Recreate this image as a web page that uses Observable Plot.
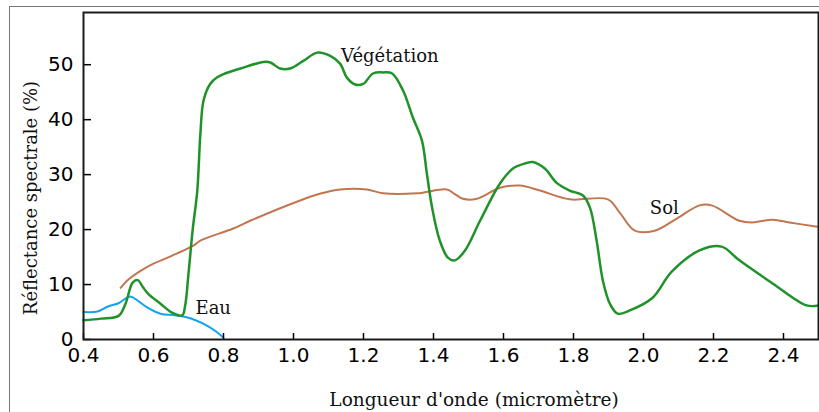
<!DOCTYPE html>
<html>
<head>
<meta charset="utf-8">
<script src="https://cdn.jsdelivr.net/npm/d3@7"></script>
<script src="https://cdn.jsdelivr.net/npm/@observablehq/plot@0.6"></script>
<style>
  html, body { margin: 0; padding: 0; background: #fff; }
  #wrap { position: relative; width: 819px; height: 412px; overflow: hidden; }
  #border { position: absolute; left: 9px; top: 6px; width: 830px; height: 430px; border: 1px solid #777; pointer-events: none; }
</style>
</head>
<body>
<div id="wrap"><div id="border"></div></div>
<script>
// Végétation
const vegWave = [0.40,0.45,0.50,0.52,0.54,0.555,0.57,0.585,0.62,0.65,0.682,0.69,0.70,0.712,0.725,0.734,0.743,0.762,0.782,0.80,0.848,0.914,0.934,0.962,0.99,1.028,1.068,1.105,1.133,1.153,1.176,1.199,1.227,1.256,1.282,1.313,1.341,1.367,1.381,1.396,1.418,1.441,1.461,1.49,1.533,1.59,1.627,1.66,1.684,1.718,1.752,1.789,1.827,1.847,1.866,1.884,1.904,1.926,1.961,2.026,2.08,2.16,2.223,2.274,2.369,2.466,2.50];
const vegRefl = [3.5,3.8,4.3,6.5,10.3,10.8,9.5,8.3,6.5,5.0,4.4,6.0,12,20,27,37.5,43.5,46.5,47.7,48.3,49.3,50.5,50.4,49.3,49.3,50.7,52.2,51.6,50.2,47.6,46.4,46.5,48.4,48.6,48.4,45.3,40.4,36.2,30.2,24,18,14.9,14.4,16.2,21.6,28.4,31.1,32,32.3,31.1,28.5,27.1,26.2,24,18,10.7,6.5,4.7,5.3,7.6,12.3,16.2,16.9,14.4,10.2,6.2,6.2];
// Sol
const solWave = [0.506,0.53,0.563,0.60,0.64,0.714,0.734,0.828,0.876,1.019,1.08,1.133,1.21,1.256,1.353,1.438,1.46,1.484,1.524,1.59,1.647,1.704,1.789,1.898,1.932,1.975,2.032,2.095,2.16,2.195,2.274,2.311,2.369,2.417,2.497];
const solRefl = [9.4,11,12.5,13.8,14.9,17.1,18,20.2,21.6,25.3,26.6,27.3,27.3,26.6,26.6,27.3,26.5,25.6,25.6,27.6,28,27.1,25.5,25.5,23.1,19.8,19.8,22,24.4,24.4,21.6,21.3,21.8,21.3,20.5];
// Eau
const eauWave = [0.40,0.44,0.47,0.50,0.531,0.545,0.583,0.62,0.66,0.697,0.72,0.754,0.78,0.80];
const eauRefl = [5.0,5.1,6.0,6.6,7.8,7.5,5.8,4.7,4.4,4.0,3.5,2.5,1.4,0.3];

const xTicks = [0.4,0.6,0.8,1.0,1.2,1.4,1.6,1.8,2.0,2.2,2.4];
const yTicks = [0,10,20,30,40,50];
const labelText = ["Végétation","Sol","Eau"];
const labelX = [1.136,2.018,0.72];
const labelY = [50.5,22.9,4.7];

const zip = (w, r) => w.map((x, i) => ({x, y: r[i]}));
const veg = zip(vegWave, vegRefl);
const sol = zip(solWave, solRefl);
const eau = zip(eauWave, eauRefl);
const labels = labelText.map((t, i) => ({t, x: labelX[i], y: labelY[i]}));

const serif = "DejaVu Serif";
const chart = Plot.plot({
  width: 819,
  height: 412,
  marginLeft: 83,
  marginRight: 1,
  marginTop: 12,
  marginBottom: 73,
  style: {background: "transparent", color: "#000"},
  x: {domain: [0.4, 2.5]},
  y: {domain: [0, 59.5]},
  marks: [
    Plot.line(sol, {x: "x", y: "y", stroke: "#c27650", strokeWidth: 2, curve: "catmull-rom"}),
    Plot.line(eau, {x: "x", y: "y", stroke: "#13a4ec", strokeWidth: 2, curve: "catmull-rom"}),
    Plot.line(veg, {x: "x", y: "y", stroke: "#20922a", strokeWidth: 2.5, curve: "catmull-rom"}),
    Plot.text(labels, {x: "x", y: "y", text: "t", textAnchor: "start", lineAnchor: "bottom", fontFamily: serif, fontSize: 18, fill: "#111"}),
    Plot.axisX({ticks: xTicks, tickFormat: d3.format(".1f"), tickSize: -6, tickPadding: 14, fontSize: 20, fontFamily: "DejaVu Sans", label: null, strokeWidth: 1.5}),
    Plot.axisY({ticks: yTicks, tickSize: -8, tickPadding: 18, fontSize: 20, fontFamily: "DejaVu Sans", label: null, strokeWidth: 1.5}),
    Plot.frame({stroke: "#1a1a1a", strokeWidth: 2}),
    Plot.text(["Longueur d'onde (micromètre)"], {frameAnchor: "bottom", dx: 23, dy: 66, fontFamily: serif, fontSize: 18.5, fill: "#111"}),
    Plot.text(["Réflectance spectrale (%)"], {frameAnchor: "left", textAnchor: "middle", rotate: -90, dx: -52, dy: 22, fontFamily: serif, fontSize: 18, fill: "#111"})
  ]
});
document.getElementById("wrap").prepend(chart);
</script>
</body>
</html>
